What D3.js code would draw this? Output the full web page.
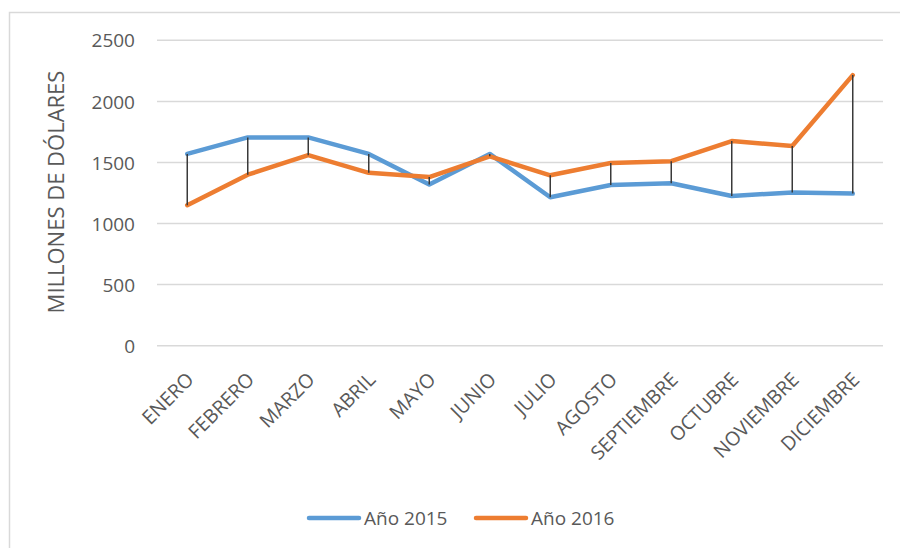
<!DOCTYPE html>
<html>
<head>
<meta charset="utf-8">
<script src="https://cdn.jsdelivr.net/npm/d3@7"></script>
<style>
  html, body { margin: 0; padding: 0; background: #fff; }
  svg { display: block; }
  text { font-family: "Open Sans", sans-serif; fill: #595959; }
</style>
</head>
<body>
<svg id="chart" width="900" height="548"></svg>
<script>
const months = ["ENERO","FEBRERO","MARZO","ABRIL","MAYO","JUNIO","JULIO","AGOSTO","SEPTIEMBRE","OCTUBRE","NOVIEMBRE","DICIEMBRE"];
const values2015 = [1570, 1705, 1705, 1570, 1320, 1570, 1215, 1315, 1330, 1225, 1255, 1245];
const values2016 = [1150, 1400, 1560, 1415, 1380, 1550, 1395, 1495, 1510, 1675, 1635, 2215];
const yTicks = [0, 500, 1000, 1500, 2000, 2500];
const seriesNames = ["Año 2015", "Año 2016"];
const yTitle = "MILLONES DE DÓLARES";

const colors = ["#5B9BD5", "#ED7D31"];
const svg = d3.select("#chart");

// outer frame (right/bottom edges fall outside the picture)
svg.append("rect").attr("x", 9.5).attr("y", 12.5).attr("width", 900).attr("height", 600)
  .attr("fill", "none").attr("stroke", "#d9d9d9").attr("stroke-width", 1.5);

const x = d3.scaleBand().domain(months).range([157, 883]);
const y = d3.scaleLinear().domain([0, 2500]).range([345.7, 40.3]);

// gridlines
svg.append("g").selectAll("line").data(yTicks).join("line")
  .attr("x1", 157).attr("x2", 883)
  .attr("y1", d => y(d)).attr("y2", d => y(d))
  .attr("stroke", "#d9d9d9").attr("stroke-width", 1.5);

// y axis labels
const yAxis = d3.axisLeft(y).tickValues(yTicks).tickFormat(d3.format("d")).tickSize(0).tickPadding(0);
const gy = svg.append("g").attr("transform", "translate(135,0)").call(yAxis);
gy.select(".domain").remove();
gy.selectAll("text").style("font-size", "19px").attr("fill", "#595959")
  .style("font-family", "'Open Sans', sans-serif").attr("dy", "0.35em");

// x axis labels
const cx = d => x(d) + x.bandwidth() / 2;
svg.append("g").selectAll("text").data(months).join("text")
  .attr("transform", d => `translate(${cx(d) + 3},${376}) rotate(-45)`)
  .attr("text-anchor", "end")
  .attr("dy", "0.35em")
  .style("font-size", "19.5px")
  .text(d => d);

// y title
svg.append("text")
  .attr("transform", "translate(64,192) rotate(-90)")
  .attr("text-anchor", "middle")
  .style("font-size", "22px")
  .text(yTitle);

// series lines
const line = d3.line().x((d, i) => cx(months[i])).y(d => y(d));
[values2015, values2016].forEach((vals, k) => {
  svg.append("path").datum(vals)
    .attr("d", line)
    .attr("fill", "none")
    .attr("stroke", colors[k])
    .attr("stroke-width", 4.5)
    .attr("stroke-linejoin", "round")
    .attr("stroke-linecap", "round");
});

// high-low lines
svg.append("g").selectAll("line").data(months).join("line")
  .attr("x1", d => cx(d)).attr("x2", d => cx(d))
  .attr("y1", (d, i) => y(Math.max(values2015[i], values2016[i])))
  .attr("y2", (d, i) => y(Math.min(values2015[i], values2016[i])))
  .attr("stroke", "#3a3a3a").attr("stroke-width", 1.5);

// legend
const legendX = [309, 476];
seriesNames.forEach((name, k) => {
  const g = svg.append("g").attr("transform", `translate(${legendX[k]},518)`);
  g.append("line").attr("x1", 0).attr("x2", 50).attr("y1", 0).attr("y2", 0)
    .attr("stroke", colors[k]).attr("stroke-width", 4.5).attr("stroke-linecap", "round");
  g.append("text").attr("x", 55).attr("dy", "0.35em").style("font-size", "19px").text(name);
});
</script>
</body>
</html>
